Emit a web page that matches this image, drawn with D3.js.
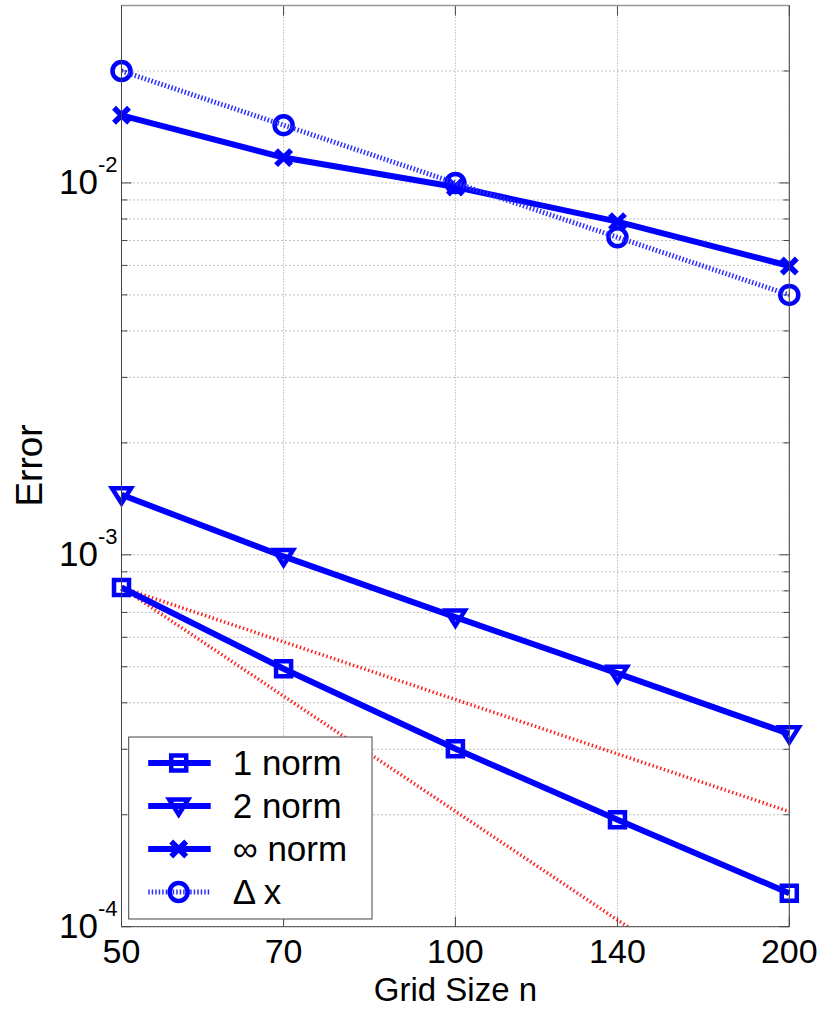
<!DOCTYPE html>
<html>
<head>
<meta charset="utf-8">
<script src="https://cdn.jsdelivr.net/npm/d3@7"></script>
<style>
    body { margin: 0; background: #fff; }
    text { font-family: "Liberation Sans", Arial, sans-serif; fill: #000; }
</style>
</head>
<body>
<div id="chart"></div>
<script>

// grid sizes and errors
const gridSize = [50, 70, 100, 140, 200];
const norm1 = [0.000817, 0.000494, 0.000301, 0.000194, 0.000123];
const norm2 = [0.00145, 0.00099, 0.00068, 0.00048, 0.00033];
const normInf = [0.0152, 0.0117, 0.00975, 0.00787, 0.00598];
const deltaX = [0.02, 0.0143, 0.01, 0.00714, 0.005];

// red reference lines (first and second order), end points only
const refN = [50, 200];
const ref1 = [0.000817, 0.000204];
const ref2 = [0.000817, 0.0000511];

const xTicks = [50, 70, 100, 140, 200];
const yMajor = [1e-4, 1e-3, 1e-2];
const yMajorExp = ["-4", "-3", "-2"];

const legendLabels = ["1 norm", "2 norm", "\u221e norm", "\u0394 x"];

const blue = "#0000ff";

class ErrorChart {

    constructor(parentElement) {
        this.parentElement = parentElement;
        this.initVis();
    }

    initVis() {
        let vis = this;

        vis.margin = {top: 5.5, right: 34.7, bottom: 82.3, left: 121.5};
        vis.width = 824 - vis.margin.left - vis.margin.right;
        vis.height = 1009 - vis.margin.top - vis.margin.bottom;

        vis.svg = d3.select("#" + vis.parentElement).append("svg")
            .attr("width", 824)
            .attr("height", 1009)
            .append("g")
            .attr("transform", "translate(" + vis.margin.left + "," + vis.margin.top + ")");

        vis.x = d3.scaleLog().domain([50, 200]).range([0, vis.width]);
        vis.y = d3.scaleLog().domain([1e-4, 3e-2]).range([vis.height, 0]);

        vis.svg.append("defs").append("clipPath")
            .attr("id", "plot-clip")
            .append("rect")
            .attr("width", vis.width)
            .attr("height", vis.height);

        vis.updateVis();
    }

    marker(g, type, cx, cy) {
        let sel = g.append("path")
            .attr("transform", "translate(" + cx + "," + cy + ")")
            .attr("fill", "none")
            .attr("stroke", blue)
            .attr("stroke-linejoin", "miter");
        if (type === "square") {
            sel.attr("d", "M-7.5,-7.5H7.5V7.5H-7.5Z").attr("stroke-width", 4.5);
        } else if (type === "tri") {
            sel.attr("d", "M-9.5,-6.5H9.5L0,8.5Z").attr("stroke-width", 4.5);
        } else if (type === "x") {
            sel.attr("d", "M-7.5,-7.5L7.5,7.5M-7.5,7.5L7.5,-7.5").attr("stroke-width", 5.5);
        } else {
            sel.attr("d", d3.arc()({innerRadius: 0, outerRadius: 9, startAngle: 0, endAngle: 2 * Math.PI}))
                .attr("stroke-width", 4.5);
        }
    }

    updateVis() {
        let vis = this;

        // grid lines
        let yGrid = vis.y.ticks();
        vis.svg.append("g").selectAll("line.hgrid")
            .data(yGrid)
            .enter().append("line")
            .attr("class", "hgrid")
            .attr("x1", 0).attr("x2", vis.width)
            .attr("y1", d => vis.y(d)).attr("y2", d => vis.y(d))
            .attr("stroke", "#808080")
            .attr("stroke-width", 1)
            .attr("stroke-dasharray", "1,3");

        vis.svg.append("g").selectAll("line.vgrid")
            .data(xTicks)
            .enter().append("line")
            .attr("class", "vgrid")
            .attr("x1", d => vis.x(d)).attr("x2", d => vis.x(d))
            .attr("y1", 0).attr("y2", vis.height)
            .attr("stroke", "#9a9a9a")
            .attr("stroke-width", 1)
            .attr("stroke-dasharray", "1,2");

        // ticks on all four sides, pointing inward
        let minor = yGrid.filter(d => !yMajor.some(m => Math.abs(m - d) / m < 1e-6));
        let tickG = vis.svg.append("g").attr("stroke", "#444").attr("stroke-width", 1);
        [[0, 1], [vis.width, -1]].forEach(([x0, dir]) => {
            yMajor.forEach(d => tickG.append("line")
                .attr("x1", x0).attr("x2", x0 + dir * 10)
                .attr("y1", vis.y(d)).attr("y2", vis.y(d)));
            minor.forEach(d => tickG.append("line")
                .attr("x1", x0).attr("x2", x0 + dir * 6)
                .attr("y1", vis.y(d)).attr("y2", vis.y(d)));
        });
        [[0, 1], [vis.height, -1]].forEach(([y0, dir]) => {
            xTicks.forEach(d => tickG.append("line")
                .attr("x1", vis.x(d)).attr("x2", vis.x(d))
                .attr("y1", y0).attr("y2", y0 + dir * 10));
        });

        // red reference lines
        let refLine = d3.line()
            .x((d, i) => vis.x(refN[i]))
            .y(d => vis.y(d));
        let plot = vis.svg.append("g").attr("clip-path", "url(#plot-clip)");
        [ref1, ref2].forEach(r => {
            plot.append("path")
                .attr("d", refLine(r))
                .attr("fill", "none")
                .attr("stroke", "#ff2020")
                .attr("stroke-width", 3.5)
                .attr("stroke-dasharray", "1.5,2.5");
        });

        // data series
        let series = [
            {vals: norm1, type: "square", dash: null},
            {vals: norm2, type: "tri", dash: null},
            {vals: normInf, type: "x", dash: null},
            {vals: deltaX, type: "circle", dash: "1.5,2"}
        ];

        let line = d3.line()
            .x((d, i) => vis.x(gridSize[i]))
            .y(d => vis.y(d));

        let markerG = vis.svg.append("g");
        series.forEach(s => {
            let p = vis.svg.append("path")
                .attr("d", line(s.vals))
                .attr("fill", "none")
                .attr("stroke", s.dash ? "#2f2fff" : blue)
                .attr("stroke-width", s.dash ? 5 : 6);
            if (s.dash) p.attr("stroke-dasharray", s.dash);
            s.vals.forEach((v, i) => vis.marker(markerG, s.type, vis.x(gridSize[i]), vis.y(v)));
        });

        // box
        let box = vis.svg.append("g").attr("fill", "none");
        box.append("line").attr("x1", 0).attr("x2", vis.width).attr("y1", 0).attr("y2", 0)
            .attr("stroke", "#999").attr("stroke-width", 1.5);
        box.append("line").attr("x1", 0).attr("x2", 0).attr("y1", 0).attr("y2", vis.height)
            .attr("stroke", "#444");
        box.append("line").attr("x1", vis.width).attr("x2", vis.width).attr("y1", 0).attr("y2", vis.height)
            .attr("stroke", "#444");
        box.append("line").attr("x1", 0).attr("x2", vis.width).attr("y1", vis.height).attr("y2", vis.height)
            .attr("stroke", "#444");

        // x tick labels
        vis.svg.selectAll("text.x-label")
            .data(xTicks)
            .enter().append("text")
            .attr("class", "x-label")
            .attr("x", d => vis.x(d))
            .attr("y", vis.height + 36.5)
            .attr("text-anchor", "middle")
            .style("font-size", "34px")
            .text(d => d);

        // y tick labels: 10 with exponent
        yMajor.forEach((d, i) => {
            let t = vis.svg.append("text")
                .attr("x", -4)
                .attr("y", vis.y(d) + 11)
                .attr("text-anchor", "end")
                .style("font-size", "35px");
            t.append("tspan").text("10");
            t.append("tspan")
                .attr("dy", -22)
                .style("font-size", "22px")
                .text(yMajorExp[i]);
        });

        // axis titles
        vis.svg.append("text")
            .attr("x", vis.x(100))
            .attr("y", vis.height + 74.5)
            .attr("text-anchor", "middle")
            .style("font-size", "33px")
            .text("Grid Size n");

        vis.svg.append("text")
            .attr("transform", "translate(" + (42 - vis.margin.left) + "," + (465.5 - vis.margin.top) + ") rotate(-90)")
            .attr("text-anchor", "middle")
            .style("font-size", "37px")
            .text("Error");

        // legend
        let lg = vis.svg.append("g")
            .attr("transform", "translate(" + (128.7 - vis.margin.left) + "," + (737 - vis.margin.top) + ")");
        lg.append("rect")
            .attr("width", 243.3)
            .attr("height", 182)
            .attr("fill", "#fff")
            .attr("stroke", "#444")
            .attr("stroke-width", 1);
        series.forEach((s, i) => {
            let cy = 26 + i * 43;
            let l = lg.append("line")
                .attr("x1", 19.5).attr("x2", 82)
                .attr("y1", cy).attr("y2", cy)
                .attr("stroke", s.dash ? "#2f2fff" : blue)
                .attr("stroke-width", s.dash ? 5 : 6);
            if (s.dash) l.attr("stroke-dasharray", s.dash);
            vis.marker(lg, s.type, 50, cy);
            lg.append("text")
                .attr("x", 104)
                .attr("y", cy + 12)
                .style("font-size", "35px")
                .text(legendLabels[i]);
        });
    }
}

new ErrorChart("chart");

</script>
</body>
</html>
